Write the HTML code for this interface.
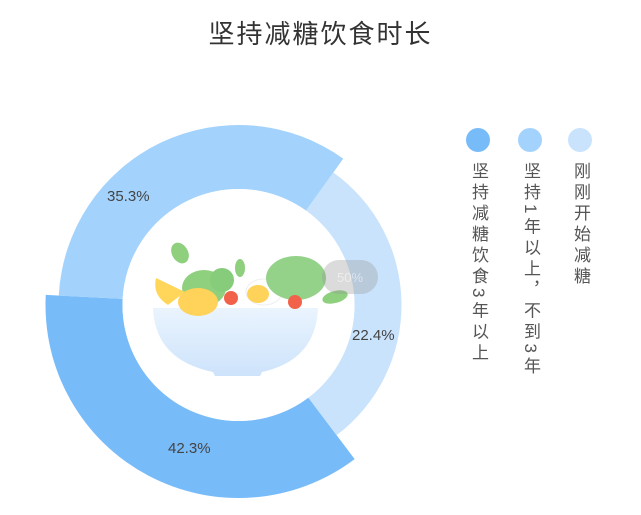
<!DOCTYPE html>
<html><head><meta charset="utf-8"><style>
body{margin:0;width:641px;height:515px;background:#fff;overflow:hidden;position:relative;font-family:"Liberation Sans","Noto Sans CJK SC",sans-serif}
.t{position:absolute;left:0;width:641px;top:14px;text-align:center;font-size:26px;color:#333;letter-spacing:2px}
.v{position:absolute;writing-mode:vertical-rl;text-orientation:mixed;font-size:17px;color:#555;line-height:20px;letter-spacing:4px}
.l{position:absolute;font-size:15px;color:#444}
</style></head><body>
<div class="t">坚持减糖饮食时长</div>
<svg width="641" height="515" style="position:absolute;left:0;top:0">
<g id="g"></g>
<defs><linearGradient id="bw" x1="0" y1="0" x2="0" y2="1"><stop offset="0" stop-color="#eaf4fe"/><stop offset="1" stop-color="#cde3fb"/></linearGradient></defs>
<circle cx="238.5" cy="305" r="116" fill="#fff"/>
<path d="M153 308 L318 308 Q316 360 262 372 L260 376 L215 376 L213 372 Q155 360 153 308Z" fill="url(#bw)"/>
<ellipse cx="204" cy="288" rx="22" ry="18" fill="#8fd07f"/>
<ellipse cx="222" cy="280" rx="12" ry="12" fill="#86cc7a"/>
<path d="M156 278 L185 292 L168 305 Q152 295 156 278Z" fill="#ffd65a"/>
<ellipse cx="198" cy="302" rx="20" ry="14" fill="#ffd25a"/>
<circle cx="231" cy="298" r="7" fill="#f2624a"/>
<ellipse cx="264" cy="292" rx="18" ry="13" fill="#fff" stroke="#eee"/>
<ellipse cx="258" cy="294" rx="11" ry="9" fill="#ffd35a"/>
<ellipse cx="296" cy="278" rx="30" ry="22" fill="#94d28a"/>
<circle cx="295" cy="302" r="7" fill="#f2624a"/>
<ellipse cx="180" cy="253" rx="8" ry="11" fill="#8fd07f" transform="rotate(-30 180 253)"/>
<ellipse cx="240" cy="268" rx="5" ry="9" fill="#8fd07f"/>
<ellipse cx="335" cy="297" rx="13" ry="6" fill="#8fd07f" transform="rotate(-15 335 297)"/>
<rect x="322" y="260" width="56" height="34" rx="17" fill="#999" opacity="0.35"/>
<text x="350" y="282" font-size="13" fill="#fff" opacity="0.5" text-anchor="middle" font-family="Liberation Sans">50%</text>
<circle cx="478" cy="140" r="12" fill="#78bbf9"/>
<circle cx="530" cy="140" r="12" fill="#a3d3fc"/>
<circle cx="580" cy="140" r="12" fill="#c9e3fd"/>
</svg>
<div class="l" style="left:107px;top:188px">35.3%</div>
<div class="l" style="left:352px;top:327px">22.4%</div>
<div class="l" style="left:168px;top:440px">42.3%</div>
<div class="v" style="left:468px;top:162px">坚持减糖饮食3年以上</div>
<div class="v" style="left:520px;top:162px">坚持1年以上，不到3年</div>
<div class="v" style="left:570px;top:162px">刚刚开始减糖</div>
<script>
var cx=238.5,cy=305,ri=116;
function P(r,a){a=a*Math.PI/180;return [cx+r*Math.sin(a),cy-r*Math.cos(a)];}
function seg(a0,a1,ro,c){var p1=P(ro,a0),p2=P(ro,a1),p3=P(ri,a1),p4=P(ri,a0);var lg=(a1-a0)>180?1:0;
return '<path fill="'+c+'" d="M'+p1+' A'+ro+' '+ro+' 0 '+lg+' 1 '+p2+' L'+p3+' A'+ri+' '+ri+' 0 '+lg+' 0 '+p4+'Z"/>';}
document.getElementById('g').innerHTML=seg(143,273,193,'#78bbf9')+seg(273,395.6,180,'#a3d3fc')+seg(35.6,143,163,'#c9e3fd');
</script>
</body></html>
